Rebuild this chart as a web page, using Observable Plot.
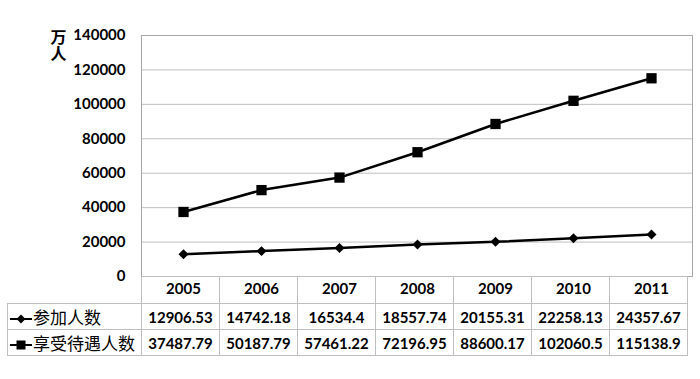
<!DOCTYPE html>
<html><head><meta charset="utf-8">
<script src="https://cdn.jsdelivr.net/npm/d3@7"></script>
<script src="https://cdn.jsdelivr.net/npm/@observablehq/plot@0.6"></script>
<style>
body{margin:0;background:#fff;}
#wrap{position:relative;width:700px;height:379px;overflow:hidden;}
#wrap svg{position:absolute;left:0;top:0;}
#tbl{position:absolute;border-collapse:collapse;font-family:Lato,sans-serif;font-weight:bold;font-size:15px;color:#000;table-layout:fixed;}
#tbl td{border:1px solid #bfbfbf;padding:0;text-align:center;white-space:nowrap;overflow:visible;box-sizing:border-box;}
#tbl td.lab{text-align:left;font-family:"Noto Sans CJK SC";font-weight:normal;font-size:17px;padding-left:1px;}
#tbl td.lab svg{position:static;vertical-align:middle;}
</style></head><body><div id="wrap"></div>
<script>
const years = ["2005","2006","2007","2008","2009","2010","2011"];
const joined = [12906.53, 14742.18, 16534.4, 18557.74, 20155.31, 22258.13, 24357.67];
const benefits = [37487.79, 50187.79, 57461.22, 72196.95, 88600.17, 102060.5, 115138.9];
const seriesNames = ["参加人数", "享受待遇人数"];
const yTicks = [0, 20000, 40000, 60000, 80000, 100000, 120000, 140000];
const unitLabel = "万人";

const rowsA = years.map((year, i) => ({year, series: seriesNames[0], value: joined[i]}));
const rowsB = years.map((year, i) => ({year, series: seriesNames[1], value: benefits[i]}));
const data = rowsA.concat(rowsB);

const chart = Plot.plot({
  width: 700, height: 379,
  marginTop: 35, marginBottom: 103, marginLeft: 141, marginRight: 8,
  style: {fontFamily: "Lato, sans-serif", fontSize: "15px", fontWeight: "bold", color: "#000", background: "transparent", overflow: "visible"},
  x: {type: "band", domain: years, padding: 0, tickSize: 0, tickPadding: 7, label: null},
  y: {domain: [0, 140000], ticks: yTicks, tickSize: 0, tickPadding: 16, label: null, tickFormat: d => String(d)},
  marks: [
    Plot.ruleY(yTicks, {stroke: "#bfbfbf"}),
    Plot.frame({stroke: "#a6a6a6"}),
    Plot.line(data, {x: "year", y: "value", z: "series", stroke: "#000", strokeWidth: 2.5}),
    Plot.dot(rowsA, {x: "year", y: "value", symbol: "diamond2", r: 4.5, fill: "#000", stroke: "none"}),
    Plot.dot(rowsB, {x: "year", y: "value", symbol: "square", r: 5.8, fill: "#000", stroke: "none"}),
    Plot.text([unitLabel], {text: d => d, frameAnchor: "top-left", dx: -83, dy: -18, fontFamily: "Noto Sans CJK SC", fontSize: 16, fontWeight: "bold", textAnchor: "start"})
  ]
});
chart.querySelectorAll("text").forEach(t => {
  if (t.textContent === unitLabel) {
    t.removeAttribute("dy");
    t.setAttribute("writing-mode", "vertical-rl");
    t.style.writingMode = "vertical-rl";
  }
});
const wrap = document.getElementById("wrap");
wrap.appendChild(chart);

const xs = chart.scale("x"), ys = chart.scale("y");
const x0 = xs.range[0];
const step = xs.step || xs.bandwidth;
const tableLeft = 7;
const top0 = ys.range[0];

const keySvg = (shape) => `<svg width="24" height="12"><line x1="1" x2="23" y1="6" y2="6" stroke="#000" stroke-width="2"/>${shape === "diamond" ? '<path d="M12,1.5L16.5,6L12,10.5L7.5,6Z"/>' : '<rect x="7.5" y="1.5" width="9" height="9"/>'}</svg>`;

let html = `<colgroup><col style="width:${x0 - tableLeft}px">${years.map(() => `<col style="width:${step}px">`).join("")}</colgroup>`;
html += `<tr style="height:27px"><td style="border-top:none;border-left:none"></td>${years.map(() => "<td></td>").join("")}</tr>`;
html += `<tr style="height:26px"><td class="lab">${keySvg("diamond")}${seriesNames[0]}</td>${joined.map(v => `<td>${v}</td>`).join("")}</tr>`;
html += `<tr style="height:26px"><td class="lab">${keySvg("square")}${seriesNames[1]}</td>${benefits.map(v => `<td>${v}</td>`).join("")}</tr>`;
const tbl = document.createElement("table");
tbl.id = "tbl";
tbl.innerHTML = html;
tbl.style.left = tableLeft + "px";
tbl.style.top = top0 + "px";
tbl.style.width = (x0 - tableLeft + step * years.length) + "px";
wrap.appendChild(tbl);
</script></body></html>
